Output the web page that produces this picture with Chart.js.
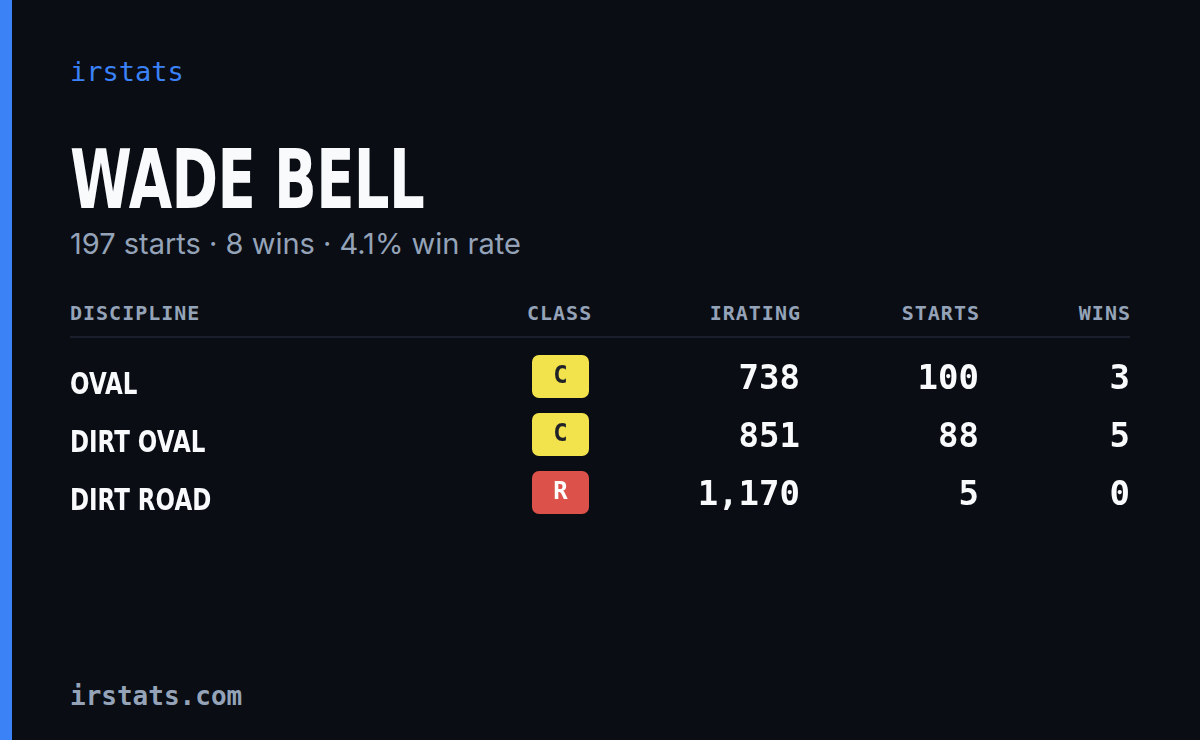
<!DOCTYPE html>
<html><head><meta charset="utf-8">
<script src="https://cdn.jsdelivr.net/npm/chart.js@4"></script>
<style>
html,body{margin:0;padding:0;background:#0a0d14;width:1200px;height:740px;overflow:hidden;position:relative;font-family:"DejaVu Sans Mono",monospace}
#bar{position:absolute;left:0;top:0;width:12px;height:740px;background:#3b82f6}
.t{position:absolute;white-space:nowrap}
#brand{left:70px;top:56px;font-size:27px;color:#3b82f6}
#title{left:70px;top:132px;font-family:"DejaVu Sans";font-weight:bold;font-size:82px;color:#f8fafc;transform:scaleX(0.685);transform-origin:0 0;letter-spacing:-1px}
#sub{left:70px;top:226px;font-family:"Inter","Noto Sans";font-size:29px;color:#94a3b8}
.h{top:301px;font-size:20px;color:#94a3b8;letter-spacing:1px;font-weight:600}
#line{position:absolute;left:70px;top:336px;width:1060px;height:2px;background:#1a1f2b}
#foot{left:70px;top:681px;font-size:26px;color:#94a3b8;font-weight:600}
#wrap{position:absolute;left:0;top:350px;width:1200px;height:174px}
</style></head><body>
<div id="bar"></div>
<div class="t" id="brand">irstats</div>
<div class="t" id="title">WADE BELL</div>
<div class="t" id="sub">197 starts · 8 wins · 4.1% win rate</div>
<div class="t h" style="left:70px">DISCIPLINE</div>
<div class="t h" style="left:527px">CLASS</div>
<div class="t h" style="right:399px">IRATING</div>
<div class="t h" style="right:220px">STARTS</div>
<div class="t h" style="right:69px">WINS</div>
<div id="line"></div>
<div id="wrap"><canvas id="c"></canvas></div>
<div class="t" id="foot">irstats.com</div>
<script>
const disciplines=["OVAL","DIRT OVAL","DIRT ROAD"];
const classes=["C","C","R"];
const iratings=[738,851,1170];
const starts=[100,88,5];
const wins=[3,5,0];
const classColors={C:"#f2e24b",R:"#dc524a"};
const tablePlugin={id:"table",afterDraw(chart){
 const ctx=chart.ctx,y=chart.scales.y;
 disciplines.forEach((d,i)=>{
  const cy=y.getPixelForValue(i);
  ctx.save();
  ctx.textBaseline="middle";
  ctx.fillStyle="#f8fafc";ctx.textAlign="left";
  ctx.font='bold 31px "DejaVu Sans"';
  ctx.save();ctx.translate(70,cy+7);ctx.scale(0.74,1);ctx.fillText(d,0,0);ctx.restore();
  ctx.fillStyle=classColors[classes[i]];
  ctx.beginPath();ctx.roundRect(532,cy-24,57,43,7);ctx.fill();
  ctx.fillStyle=classes[i]==="R"?"#ffffff":"#1f2329";
  ctx.textAlign="center";ctx.font='bold 24px "DejaVu Sans Mono"';
  ctx.fillText(classes[i],560.5,cy-2);
  ctx.fillStyle="#f8fafc";ctx.textAlign="right";
  ctx.font='bold 34px "DejaVu Sans Mono"';
  ctx.fillText(iratings[i].toLocaleString("en-US"),800,cy+1);
  ctx.fillText(String(starts[i]),979,cy+1);
  ctx.fillText(String(wins[i]),1130,cy+1);
  ctx.restore();
 });
}};
new Chart(document.getElementById("c"),{type:"bar",
 data:{labels:disciplines,datasets:[{data:iratings,backgroundColor:"rgba(0,0,0,0)"}]},
 options:{indexAxis:"y",responsive:true,maintainAspectRatio:false,animation:false,
  layout:{padding:0},
  plugins:{legend:{display:false},tooltip:{enabled:false}},
  scales:{x:{display:false,min:0,max:2000},y:{display:false,offset:true}}},
 plugins:[tablePlugin]});
</script></body></html>
